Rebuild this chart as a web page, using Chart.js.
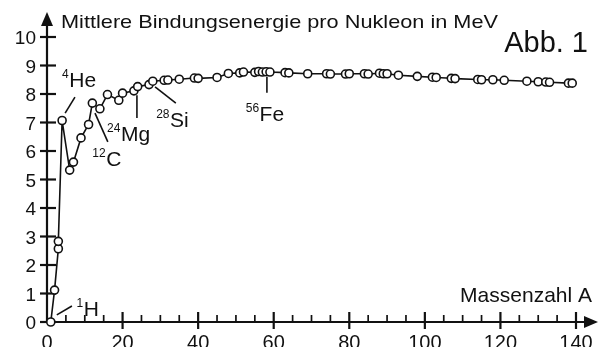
<!DOCTYPE html>
<html>
<head>
<meta charset="utf-8">
<script src="https://cdn.jsdelivr.net/npm/chart.js@4.4.0/dist/chart.umd.min.js"></script>
<style>
  html, body { margin: 0; padding: 0; background: #fff; }
  #wrap { width: 608px; height: 347px; }
</style>
</head>
<body>
<div id="wrap"><canvas id="bindingChart" width="608" height="347"></canvas></div>
<script>
// Massenzahl A und mittlere Bindungsenergie pro Nukleon (MeV)
const massNumbers = [1, 2, 3, 3, 4, 6, 7, 9, 11, 12, 14, 16, 19, 20, 23, 24, 27, 28, 31, 32,
  35, 39, 40, 45, 48, 51, 52, 55, 56, 57, 58, 59, 63, 64, 69, 74, 75, 79, 80, 84, 85,
  88, 89, 90, 93, 98, 102, 103, 107, 108, 114, 115, 118, 121, 127, 130, 132, 133, 138, 139];
const bindingEnergy = [0, 1.12, 2.57, 2.83, 7.07, 5.33, 5.61, 6.46, 6.93, 7.68, 7.48, 7.98, 7.78, 8.03, 8.11, 8.26, 8.33, 8.45, 8.48, 8.49,
  8.52, 8.56, 8.55, 8.58, 8.72, 8.74, 8.77, 8.76, 8.79, 8.77, 8.78, 8.77, 8.75, 8.74, 8.71, 8.71, 8.70, 8.70, 8.71, 8.71, 8.70,
  8.73, 8.71, 8.71, 8.66, 8.62, 8.59, 8.58, 8.55, 8.54, 8.51, 8.50, 8.50, 8.48, 8.45, 8.43, 8.42, 8.41, 8.38, 8.38];

const xTicks = [0, 20, 40, 60, 80, 100, 120, 140];
const yTicks = [0, 1, 2, 3, 4, 5, 6, 7, 8, 9, 10];

// Beschriftung der Nuklide: [hoch, Symbol, Textanker A, Textanker E, Linie von A/E, Linie bis A/E]
const nuclideLabels = [
  ['1', 'H', 7.8, 0.2, [2.6, 0.25], [6.6, 0.56]],
  ['4', 'He', 4.0, 8.25, [4.8, 7.33], [7.4, 7.89]],
  ['12', 'C', 12.0, 5.47, [12.7, 7.33], [16.1, 6.32]],
  ['24', 'Mg', 15.9, 6.35, [23.8, 7.96], [23.8, 7.16]],
  ['28', 'Si', 28.9, 6.84, [28.6, 8.25], [34.1, 7.68]],
  ['56', 'Fe', 52.6, 7.05, [58.2, 8.6], [58.2, 8.04]]
];

const ink = '#111';

function stretchText(ctx, text, x, y, font, width) {
  ctx.save();
  ctx.font = font;
  const w = ctx.measureText(text).width;
  ctx.translate(x, y);
  ctx.scale(width / w, 1);
  ctx.fillText(text, 0, 0);
  ctx.restore();
}

const axesPlugin = {
  id: 'handAxes',
  beforeDatasetsDraw(chart) {
    const { ctx, scales: { x, y } } = chart;
    const x0 = x.getPixelForValue(0);
    const y0 = y.getPixelForValue(0);
    ctx.save();
    ctx.strokeStyle = ink;
    ctx.fillStyle = ink;
    ctx.lineWidth = 2.2;

    // y axis + arrow
    ctx.beginPath();
    ctx.moveTo(x0, y0 + 1);
    ctx.lineTo(x0, 22);
    ctx.stroke();
    ctx.beginPath();
    ctx.moveTo(x0, 12);
    ctx.lineTo(x0 - 6, 26);
    ctx.lineTo(x0 + 6, 26);
    ctx.closePath();
    ctx.fill();

    // x axis + arrow
    ctx.beginPath();
    ctx.moveTo(x0 - 5, y0);
    ctx.lineTo(590, y0);
    ctx.stroke();
    ctx.beginPath();
    ctx.moveTo(598, y0);
    ctx.lineTo(584, y0 - 6);
    ctx.lineTo(584, y0 + 6);
    ctx.closePath();
    ctx.fill();

    // y ticks + labels
    ctx.font = '19px "Liberation Sans", Arial, sans-serif';
    ctx.textAlign = 'right';
    ctx.textBaseline = 'alphabetic';
    yTicks.forEach(v => {
      const py = y.getPixelForValue(v);
      ctx.beginPath();
      ctx.moveTo(x0 - 7, py);
      ctx.lineTo(x0 + 9, py);
      ctx.stroke();
      ctx.fillText(String(v), 36, py + 7);
    });

    // x ticks (major every 20, minor every 5) + labels
    ctx.lineWidth = 1.7;
    for (let a = 5; a <= 135; a += 5) {
      if (a % 20 === 0) continue;
      const px = x.getPixelForValue(a);
      ctx.beginPath();
      ctx.moveTo(px, y0);
      ctx.lineTo(px, y0 - 7);
      ctx.stroke();
    }
    ctx.lineWidth = 2.2;
    ctx.font = '20px "Liberation Sans", Arial, sans-serif';
    ctx.textAlign = 'center';
    xTicks.forEach(v => {
      const px = x.getPixelForValue(v);
      if (v > 0) {
        ctx.beginPath();
        ctx.moveTo(px, y0 - 10);
        ctx.lineTo(px, y0 + 7);
        ctx.stroke();
      }
      ctx.fillText(String(v), px, 349);
    });

    // axis titles
    ctx.textAlign = 'left';
    stretchText(ctx, 'Mittlere Bindungsenergie pro Nukleon in MeV', 61, 28, '19px "Liberation Sans", Arial, sans-serif', 437);
    ctx.font = '21px "Liberation Sans", Arial, sans-serif';
    ctx.textAlign = 'right';
    ctx.fillText('Massenzahl A', 592, 302);
    ctx.font = '29px "Liberation Sans", Arial, sans-serif';
    ctx.fillText('Abb. 1', 588, 52);
    ctx.restore();
  },
  afterDatasetsDraw(chart) {
    const { ctx, scales: { x, y } } = chart;
    ctx.save();
    ctx.strokeStyle = ink;
    ctx.fillStyle = ink;
    ctx.lineWidth = 1.6;
    ctx.textAlign = 'left';
    ctx.textBaseline = 'alphabetic';
    nuclideLabels.forEach(([sup, sym, ta, te, from, to]) => {
      ctx.beginPath();
      ctx.moveTo(x.getPixelForValue(from[0]), y.getPixelForValue(from[1]));
      ctx.lineTo(x.getPixelForValue(to[0]), y.getPixelForValue(to[1]));
      ctx.stroke();
      const px = x.getPixelForValue(ta);
      const py = y.getPixelForValue(te);
      ctx.font = '12px "Liberation Sans", Arial, sans-serif';
      ctx.fillText(sup, px, py - 9);
      const sw = ctx.measureText(sup).width;
      ctx.font = '21px "Liberation Sans", Arial, sans-serif';
      ctx.fillText(sym, px + sw + 0.5, py);
    });
    ctx.restore();
  }
};

const ctx = document.getElementById('bindingChart').getContext('2d');
new Chart(ctx, {
  type: 'scatter',
  data: {
    datasets: [{
      data: massNumbers.map((a, i) => ({ x: a, y: bindingEnergy[i] })),
      showLine: true,
      borderColor: ink,
      borderWidth: 1.6,
      pointRadius: 4,
      pointBorderWidth: 1.6,
      pointBackgroundColor: '#fff',
      pointBorderColor: ink,
      clip: false
    }]
  },
  options: {
    responsive: false,
    animation: false,
    layout: { padding: { left: 47, right: 32, top: 37, bottom: 25 } },
    scales: {
      x: { type: 'linear', min: 0, max: 140, display: false },
      y: { type: 'linear', min: 0, max: 10, display: false }
    },
    plugins: {
      legend: { display: false },
      tooltip: { enabled: false }
    }
  },
  plugins: [axesPlugin]
});
</script>
</body>
</html>
